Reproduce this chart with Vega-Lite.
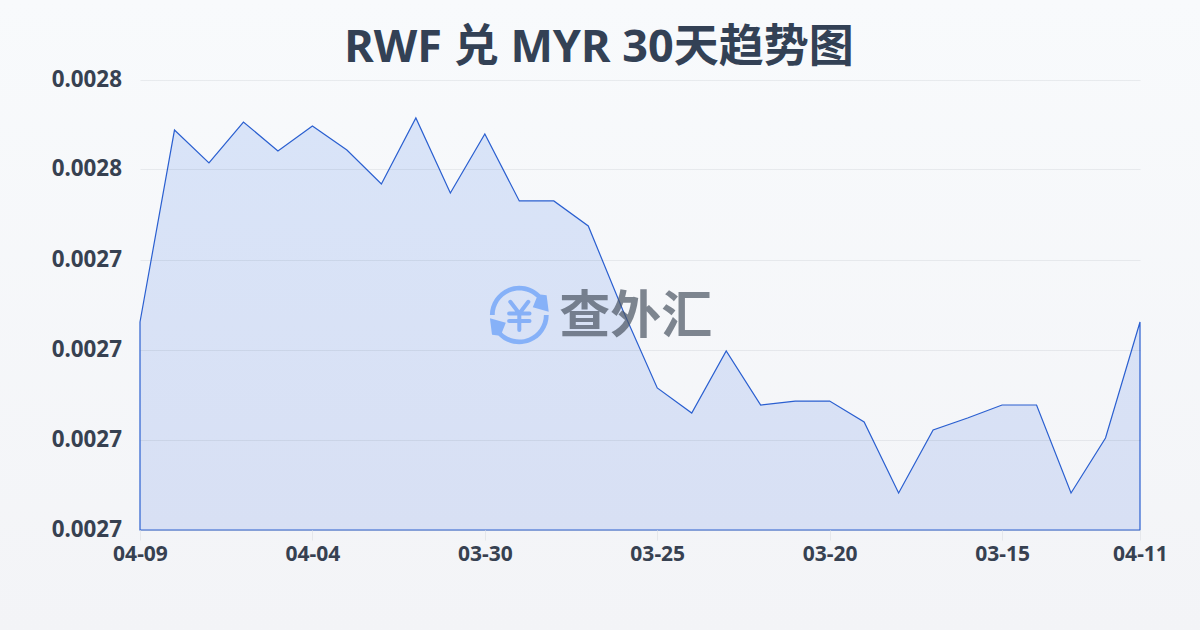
{"$schema":"https://vega.github.io/schema/vega-lite/v6.json","width":1000,"height":450,"autosize":{"type":"none"},"padding":{"left":140,"top":80,"right":60,"bottom":100},"title":{"text":"RWF 兑 MYR 30天趋势图","font":"Noto Sans, Noto Sans CJK SC","fontSize":45,"fontWeight":"bold","color":"#334155","anchor":"middle","dx":-41,"offset":-456},"config":{"view":{"stroke":null}},"encoding":{"x":{"field":"date","type":"nominal","sort":null,"scale":{"type":"point","padding":0,"align":0,"range":[0,1000.001],"domain":["04-09","04-08","04-07","04-06","04-05","04-04","04-03","04-02","04-01","03-31","03-30","03-29","03-28","03-27","03-26","03-25","03-24","03-23","03-22","03-21","03-20","03-19","03-18","03-17","03-16","03-15","03-14","03-13","03-12","04-11"]},"axis":{"title":null,"zindex":1,"values":["04-09","04-04","03-30","03-25","03-20","03-15","04-11"],"labelAngle":0,"labelFont":"Noto Sans","labelFontSize":21,"labelFontWeight":"bold","labelColor":"#374151","labelPadding":3,"domain":false,"tickColor":"#e5e7eb","tickSize":10,"grid":false}},"y":{"field":"rate","type":"quantitative","scale":{"domain":[0.00271,0.00276],"zero":false,"nice":false},"axis":{"title":null,"zindex":1,"values":[0.00271,0.00272,0.00273,0.00274,0.0027501,0.00276],"format":".4f","labelFont":"Noto Sans","labelFontSize":22.4,"labelFontWeight":"bold","labelColor":"#374151","labelPadding":18.5,"labelOffset":-1,"domain":false,"ticks":false,"grid":true,"gridColor":"#1e293b","gridOpacity":0.07,"gridWidth":1}}},"layer":[{"data":{"values":[{"date":"03-29","rate":0.00273389}]},"mark":{"type":"point","shape":"square","size":1960000,"opacity":1,"strokeWidth":0,"fill":{"gradient":"linear","x1":0,"y1":0,"x2":0,"y2":1,"stops":[{"offset":0.275,"color":"#f8fafc"},{"offset":0.725,"color":"#f3f4f7"}]}}},{"data":{"values":[{"date":"04-09","rate":0.00273311},{"date":"04-08","rate":0.00275444},{"date":"04-07","rate":0.00275078},{"date":"04-06","rate":0.00275533},{"date":"04-05","rate":0.00275211},{"date":"04-04","rate":0.00275489},{"date":"04-03","rate":0.00275222},{"date":"04-02","rate":0.00274844},{"date":"04-01","rate":0.00275578},{"date":"03-31","rate":0.00274744},{"date":"03-30","rate":0.0027540},{"date":"03-29","rate":0.00274656},{"date":"03-28","rate":0.00274656},{"date":"03-27","rate":0.00274378},{"date":"03-26","rate":0.00273444},{"date":"03-25","rate":0.00272578},{"date":"03-24","rate":0.002723},{"date":"03-23","rate":0.00272989},{"date":"03-22","rate":0.00272389},{"date":"03-21","rate":0.00272433},{"date":"03-20","rate":0.00272433},{"date":"03-19","rate":0.002722},{"date":"03-18","rate":0.00271411},{"date":"03-17","rate":0.00272111},{"date":"03-16","rate":0.00272244},{"date":"03-15","rate":0.00272389},{"date":"03-14","rate":0.00272389},{"date":"03-13","rate":0.00271411},{"date":"03-12","rate":0.00272022},{"date":"04-11","rate":0.00273311}]},"mark":{"type":"area","stroke":"#2a5fd0","strokeWidth":1.2,"fill":{"gradient":"linear","x1":0,"y1":0,"x2":0,"y2":1,"stops":[{"offset":0,"color":"#d9e4f8"},{"offset":1,"color":"#d8e0f4"}]}},"encoding":{"y2":{"datum":0.00271}}},{"data":{"values":[{"date":"03-29","rate":0.00273389}]},"mark":{"type":"point","filled":true,"size":3600,"opacity":0.95,"color":"#82aef8","shape":"M-0.98,0 A0.98,0.98 0 0 1 0.7,-0.68 L0.91,-0.66 L0.98,-0.11 L0.45,-0.26 L0.58,-0.58 A0.82,0.82 0 0 0 -0.82,0 Z M0.98,0 A0.98,0.98 0 0 1 -0.7,0.68 L-0.91,0.66 L-0.98,0.11 L-0.45,0.26 L-0.58,0.58 A0.82,0.82 0 0 0 0.82,0 Z"}},{"data":{"values":[{"date":"03-29","rate":0.00273389}]},"mark":{"type":"point","filled":false,"size":3600,"opacity":0.95,"strokeWidth":4,"strokeCap":"round","strokeJoin":"round","color":"#82aef8","shape":"M-0.3,-0.44 L0,-0.05 L0.3,-0.44 M-0.34,-0.05 L0.34,-0.05 M-0.34,0.2 L0.34,0.2 M0,-0.05 L0,0.5"}},{"data":{"values":[{"date":"03-26","rate":0.00273389,"name":"查外汇"}]},"mark":{"type":"text","font":"Noto Sans CJK SC","fontSize":51,"fontWeight":"bold","color":"#4b5563","opacity":0.7,"align":"center","baseline":"middle","dx":13,"dy":3},"encoding":{"text":{"field":"name"}}}]}
